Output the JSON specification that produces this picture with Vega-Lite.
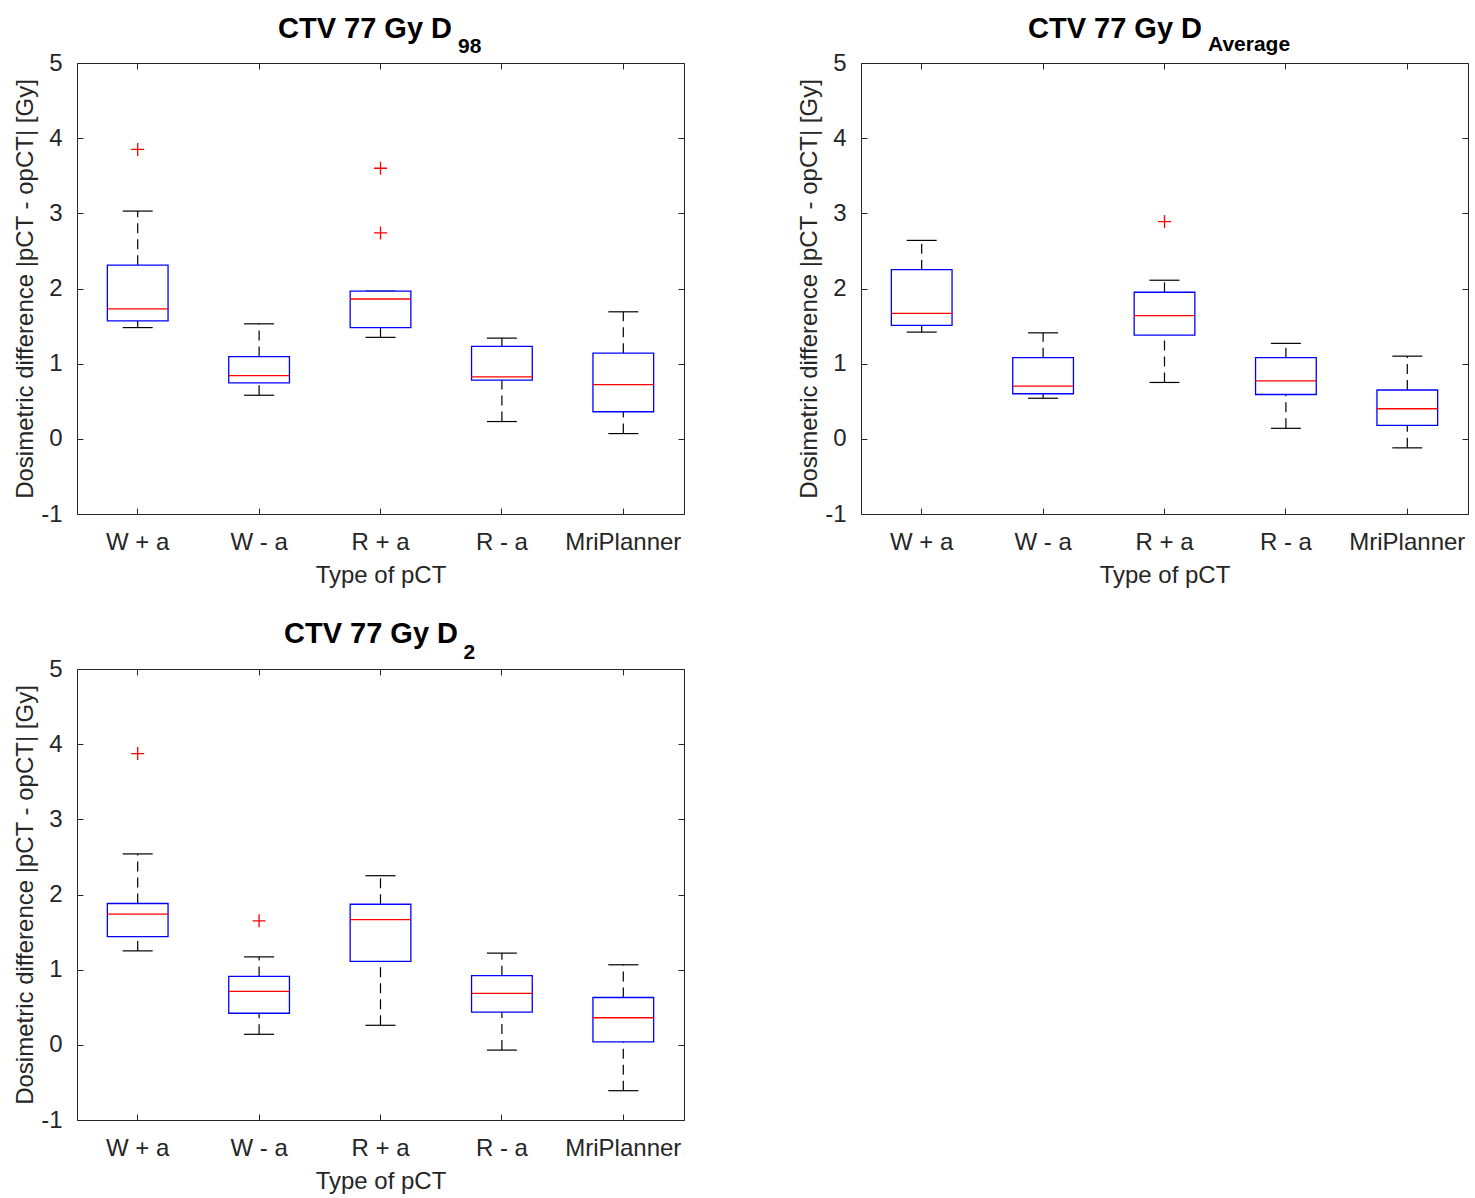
{
  "$schema": "https://vega.github.io/schema/vega-lite/v6.json",
  "padding": {"left": 13, "top": 14, "right": 0, "bottom": 0},
  "background": "white",
  "datasets": {
    "stats": [
      {"panel": "D98", "type": "W + a", "lower": 1.48, "q1": 1.57, "median": 1.73, "q3": 2.31, "upper": 3.03},
      {"panel": "D98", "type": "W - a", "lower": 0.58, "q1": 0.745, "median": 0.84, "q3": 1.095, "upper": 1.53},
      {"panel": "D98", "type": "R + a", "lower": 1.35, "q1": 1.48, "median": 1.86, "q3": 1.965, "upper": 1.965},
      {"panel": "D98", "type": "R - a", "lower": 0.23, "q1": 0.78, "median": 0.825, "q3": 1.23, "upper": 1.34},
      {"panel": "D98", "type": "MriPlanner", "lower": 0.07, "q1": 0.36, "median": 0.72, "q3": 1.14, "upper": 1.69},
      {"panel": "DAvg", "type": "W + a", "lower": 1.42, "q1": 1.51, "median": 1.67, "q3": 2.25, "upper": 2.64},
      {"panel": "DAvg", "type": "W - a", "lower": 0.54, "q1": 0.6, "median": 0.7, "q3": 1.08, "upper": 1.41},
      {"panel": "DAvg", "type": "R + a", "lower": 0.75, "q1": 1.38, "median": 1.64, "q3": 1.95, "upper": 2.11},
      {"panel": "DAvg", "type": "R - a", "lower": 0.14, "q1": 0.59, "median": 0.77, "q3": 1.08, "upper": 1.27},
      {"panel": "DAvg", "type": "MriPlanner", "lower": -0.12, "q1": 0.18, "median": 0.4, "q3": 0.65, "upper": 1.1},
      {"panel": "D2", "type": "W + a", "lower": 1.25, "q1": 1.44, "median": 1.74, "q3": 1.88, "upper": 2.54},
      {"panel": "D2", "type": "W - a", "lower": 0.14, "q1": 0.42, "median": 0.71, "q3": 0.91, "upper": 1.17},
      {"panel": "D2", "type": "R + a", "lower": 0.26, "q1": 1.11, "median": 1.665, "q3": 1.87, "upper": 2.25},
      {"panel": "D2", "type": "R - a", "lower": -0.07, "q1": 0.435, "median": 0.685, "q3": 0.92, "upper": 1.22},
      {"panel": "D2", "type": "MriPlanner", "lower": -0.61, "q1": 0.04, "median": 0.36, "q3": 0.63, "upper": 1.065}
    ],
    "outliers": [
      {"panel": "D98", "type": "W + a", "value": 3.85},
      {"panel": "D98", "type": "R + a", "value": 3.6},
      {"panel": "D98", "type": "R + a", "value": 2.74},
      {"panel": "DAvg", "type": "R + a", "value": 2.89},
      {"panel": "D2", "type": "W + a", "value": 3.875},
      {"panel": "D2", "type": "W - a", "value": 1.65}
    ],
    "subs": [
      {"panel": "D98", "sub": "98"},
      {"panel": "DAvg", "sub": "Average"},
      {"panel": "D2", "sub": "2"}
    ]
  },
  "columns": 2,
  "spacing": {"row": 155, "column": 177},
  "bounds": "flush",
  "concat": [
    {
      "width": 607, "height": 451,
      "title": {"text": "CTV 77 Gy D", "dx": -15.5, "offset": -8},
      "resolve": {"axis": {"x": "independent", "y": "independent"}},
      "layer": [
        {"data": {"name": "stats"}, "transform": [{"filter": "datum.panel === 'D98'"}],
         "mark": {"type": "rule", "color": "black", "strokeWidth": 1.2, "strokeDash": [10, 6]},
         "encoding": {"x": {"field": "type", "type": "nominal", "scale": {"type": "band", "domain": ["W + a", "W - a", "R + a", "R - a", "MriPlanner"], "paddingInner": 0, "paddingOuter": 0}, "axis": null},
                      "y": {"field": "q3", "type": "quantitative", "scale": {"domain": [-1, 5], "nice": false, "zero": false}, "axis": null}, "y2": {"field": "upper"}}},
        {"data": {"name": "stats"}, "transform": [{"filter": "datum.panel === 'D98'"}],
         "mark": {"type": "rule", "color": "black", "strokeWidth": 1.2, "strokeDash": [10, 6]},
         "encoding": {"x": {"field": "type", "type": "nominal", "scale": {"type": "band", "domain": ["W + a", "W - a", "R + a", "R - a", "MriPlanner"], "paddingInner": 0, "paddingOuter": 0}, "axis": null},
                      "y": {"field": "lower", "type": "quantitative", "scale": {"domain": [-1, 5], "nice": false, "zero": false}, "axis": null}, "y2": {"field": "q1"}}},
        {"data": {"name": "stats"}, "transform": [{"filter": "datum.panel === 'D98'"}],
         "mark": {"type": "tick", "color": "black", "size": 30, "thickness": 1.2, "opacity": 1},
         "encoding": {"x": {"field": "type", "type": "nominal", "scale": {"type": "band", "domain": ["W + a", "W - a", "R + a", "R - a", "MriPlanner"], "paddingInner": 0, "paddingOuter": 0}, "axis": null},
                      "y": {"field": "upper", "type": "quantitative", "scale": {"domain": [-1, 5], "nice": false, "zero": false}, "axis": null}}},
        {"data": {"name": "stats"}, "transform": [{"filter": "datum.panel === 'D98'"}],
         "mark": {"type": "tick", "color": "black", "size": 30, "thickness": 1.2, "opacity": 1},
         "encoding": {"x": {"field": "type", "type": "nominal", "scale": {"type": "band", "domain": ["W + a", "W - a", "R + a", "R - a", "MriPlanner"], "paddingInner": 0, "paddingOuter": 0}, "axis": null},
                      "y": {"field": "lower", "type": "quantitative", "scale": {"domain": [-1, 5], "nice": false, "zero": false}, "axis": null}}},
        {"data": {"name": "stats"}, "transform": [{"filter": "datum.panel === 'D98'"}],
         "mark": {"type": "bar", "width": {"band": 0.5}, "fill": "white", "stroke": "#0000ff", "strokeWidth": 1.3},
         "encoding": {"x": {"field": "type", "type": "nominal", "scale": {"type": "band", "domain": ["W + a", "W - a", "R + a", "R - a", "MriPlanner"], "paddingInner": 0, "paddingOuter": 0},
                            "axis": {"orient": "bottom", "title": "Type of pCT", "labelAngle": 0, "domain": false, "tickSize": -6, "labelPadding": 22, "titlePadding": 9}},
                      "y": {"field": "q1", "type": "quantitative", "scale": {"domain": [-1, 5], "nice": false, "zero": false},
                            "axis": {"orient": "left", "title": "Dosimetric difference |pCT - opCT| [Gy]", "values": [-1, 0, 1, 2, 3, 4, 5], "labelExpr": "'' + datum.value", "domain": false, "tickSize": -6, "labelPadding": 21, "titlePadding": 3}},
                      "y2": {"field": "q3"}}},
        {"data": {"name": "stats"}, "transform": [{"filter": "datum.panel === 'D98'"}],
         "mark": {"type": "tick", "color": "#ff0000", "size": 61, "thickness": 1.3, "opacity": 1},
         "encoding": {"x": {"field": "type", "type": "nominal", "scale": {"type": "band", "domain": ["W + a", "W - a", "R + a", "R - a", "MriPlanner"], "paddingInner": 0, "paddingOuter": 0},
                            "axis": {"orient": "top", "title": null, "labels": false, "domain": false, "tickSize": -6}},
                      "y": {"field": "median", "type": "quantitative", "scale": {"domain": [-1, 5], "nice": false, "zero": false},
                            "axis": {"orient": "right", "title": null, "labels": false, "values": [-1, 0, 1, 2, 3, 4, 5], "domain": false, "tickSize": -6}}}},
        {"data": {"name": "outliers"}, "transform": [{"filter": "datum.panel === 'D98'"}],
         "mark": {"type": "point", "shape": "M-1,0L1,0M0,-1L0,1", "size": 169, "filled": false, "color": "#ff0000", "strokeWidth": 1.3, "opacity": 1},
         "encoding": {"x": {"field": "type", "type": "nominal", "scale": {"type": "band", "domain": ["W + a", "W - a", "R + a", "R - a", "MriPlanner"], "paddingInner": 0, "paddingOuter": 0}, "axis": null},
                      "y": {"field": "value", "type": "quantitative", "scale": {"domain": [-1, 5], "nice": false, "zero": false}, "axis": null}}},
        {"data": {"name": "subs"}, "transform": [{"filter": "datum.panel === 'D98'"}],
         "mark": {"type": "text", "align": "left", "baseline": "alphabetic", "dx": 77.5, "dy": -10, "fontSize": 21, "fontWeight": "bold", "color": "black"},
         "encoding": {"x": {"datum": "R + a", "type": "nominal", "scale": {"type": "band", "domain": ["W + a", "W - a", "R + a", "R - a", "MriPlanner"], "paddingInner": 0, "paddingOuter": 0}, "axis": null},
                      "y": {"datum": 5, "type": "quantitative", "scale": {"domain": [-1, 5], "nice": false, "zero": false}, "axis": null},
                      "text": {"field": "sub"}}}
      ]
    },
    {
      "width": 607, "height": 451,
      "title": {"text": "CTV 77 Gy D", "dx": -49.5, "offset": -9.6},
      "resolve": {"axis": {"x": "independent", "y": "independent"}},
      "layer": [
        {"data": {"name": "stats"}, "transform": [{"filter": "datum.panel === 'DAvg'"}],
         "mark": {"type": "rule", "color": "black", "strokeWidth": 1.2, "strokeDash": [10, 6]},
         "encoding": {"x": {"field": "type", "type": "nominal", "scale": {"type": "band", "domain": ["W + a", "W - a", "R + a", "R - a", "MriPlanner"], "paddingInner": 0, "paddingOuter": 0}, "axis": null},
                      "y": {"field": "q3", "type": "quantitative", "scale": {"domain": [-1, 5], "nice": false, "zero": false}, "axis": null}, "y2": {"field": "upper"}}},
        {"data": {"name": "stats"}, "transform": [{"filter": "datum.panel === 'DAvg'"}],
         "mark": {"type": "rule", "color": "black", "strokeWidth": 1.2, "strokeDash": [10, 6]},
         "encoding": {"x": {"field": "type", "type": "nominal", "scale": {"type": "band", "domain": ["W + a", "W - a", "R + a", "R - a", "MriPlanner"], "paddingInner": 0, "paddingOuter": 0}, "axis": null},
                      "y": {"field": "lower", "type": "quantitative", "scale": {"domain": [-1, 5], "nice": false, "zero": false}, "axis": null}, "y2": {"field": "q1"}}},
        {"data": {"name": "stats"}, "transform": [{"filter": "datum.panel === 'DAvg'"}],
         "mark": {"type": "tick", "color": "black", "size": 30, "thickness": 1.2, "opacity": 1},
         "encoding": {"x": {"field": "type", "type": "nominal", "scale": {"type": "band", "domain": ["W + a", "W - a", "R + a", "R - a", "MriPlanner"], "paddingInner": 0, "paddingOuter": 0}, "axis": null},
                      "y": {"field": "upper", "type": "quantitative", "scale": {"domain": [-1, 5], "nice": false, "zero": false}, "axis": null}}},
        {"data": {"name": "stats"}, "transform": [{"filter": "datum.panel === 'DAvg'"}],
         "mark": {"type": "tick", "color": "black", "size": 30, "thickness": 1.2, "opacity": 1},
         "encoding": {"x": {"field": "type", "type": "nominal", "scale": {"type": "band", "domain": ["W + a", "W - a", "R + a", "R - a", "MriPlanner"], "paddingInner": 0, "paddingOuter": 0}, "axis": null},
                      "y": {"field": "lower", "type": "quantitative", "scale": {"domain": [-1, 5], "nice": false, "zero": false}, "axis": null}}},
        {"data": {"name": "stats"}, "transform": [{"filter": "datum.panel === 'DAvg'"}],
         "mark": {"type": "bar", "width": {"band": 0.5}, "fill": "white", "stroke": "#0000ff", "strokeWidth": 1.3},
         "encoding": {"x": {"field": "type", "type": "nominal", "scale": {"type": "band", "domain": ["W + a", "W - a", "R + a", "R - a", "MriPlanner"], "paddingInner": 0, "paddingOuter": 0},
                            "axis": {"orient": "bottom", "title": "Type of pCT", "labelAngle": 0, "domain": false, "tickSize": -6, "labelPadding": 22, "titlePadding": 9}},
                      "y": {"field": "q1", "type": "quantitative", "scale": {"domain": [-1, 5], "nice": false, "zero": false},
                            "axis": {"orient": "left", "title": "Dosimetric difference |pCT - opCT| [Gy]", "values": [-1, 0, 1, 2, 3, 4, 5], "labelExpr": "'' + datum.value", "domain": false, "tickSize": -6, "labelPadding": 21, "titlePadding": 3}},
                      "y2": {"field": "q3"}}},
        {"data": {"name": "stats"}, "transform": [{"filter": "datum.panel === 'DAvg'"}],
         "mark": {"type": "tick", "color": "#ff0000", "size": 61, "thickness": 1.3, "opacity": 1},
         "encoding": {"x": {"field": "type", "type": "nominal", "scale": {"type": "band", "domain": ["W + a", "W - a", "R + a", "R - a", "MriPlanner"], "paddingInner": 0, "paddingOuter": 0},
                            "axis": {"orient": "top", "title": null, "labels": false, "domain": false, "tickSize": -6}},
                      "y": {"field": "median", "type": "quantitative", "scale": {"domain": [-1, 5], "nice": false, "zero": false},
                            "axis": {"orient": "right", "title": null, "labels": false, "values": [-1, 0, 1, 2, 3, 4, 5], "domain": false, "tickSize": -6}}}},
        {"data": {"name": "outliers"}, "transform": [{"filter": "datum.panel === 'DAvg'"}],
         "mark": {"type": "point", "shape": "M-1,0L1,0M0,-1L0,1", "size": 169, "filled": false, "color": "#ff0000", "strokeWidth": 1.3, "opacity": 1},
         "encoding": {"x": {"field": "type", "type": "nominal", "scale": {"type": "band", "domain": ["W + a", "W - a", "R + a", "R - a", "MriPlanner"], "paddingInner": 0, "paddingOuter": 0}, "axis": null},
                      "y": {"field": "value", "type": "quantitative", "scale": {"domain": [-1, 5], "nice": false, "zero": false}, "axis": null}}},
        {"data": {"name": "subs"}, "transform": [{"filter": "datum.panel === 'DAvg'"}],
         "mark": {"type": "text", "align": "left", "baseline": "alphabetic", "dx": 43.5, "dy": -12, "fontSize": 21, "fontWeight": "bold", "color": "black"},
         "encoding": {"x": {"datum": "R + a", "type": "nominal", "scale": {"type": "band", "domain": ["W + a", "W - a", "R + a", "R - a", "MriPlanner"], "paddingInner": 0, "paddingOuter": 0}, "axis": null},
                      "y": {"datum": 5, "type": "quantitative", "scale": {"domain": [-1, 5], "nice": false, "zero": false}, "axis": null},
                      "text": {"field": "sub"}}}
      ]
    },
    {
      "width": 607, "height": 451,
      "title": {"text": "CTV 77 Gy D", "dx": -9.5, "offset": -7.3},
      "resolve": {"axis": {"x": "independent", "y": "independent"}},
      "layer": [
        {"data": {"name": "stats"}, "transform": [{"filter": "datum.panel === 'D2'"}],
         "mark": {"type": "rule", "color": "black", "strokeWidth": 1.2, "strokeDash": [10, 6]},
         "encoding": {"x": {"field": "type", "type": "nominal", "scale": {"type": "band", "domain": ["W + a", "W - a", "R + a", "R - a", "MriPlanner"], "paddingInner": 0, "paddingOuter": 0}, "axis": null},
                      "y": {"field": "q3", "type": "quantitative", "scale": {"domain": [-1, 5], "nice": false, "zero": false}, "axis": null}, "y2": {"field": "upper"}}},
        {"data": {"name": "stats"}, "transform": [{"filter": "datum.panel === 'D2'"}],
         "mark": {"type": "rule", "color": "black", "strokeWidth": 1.2, "strokeDash": [10, 6]},
         "encoding": {"x": {"field": "type", "type": "nominal", "scale": {"type": "band", "domain": ["W + a", "W - a", "R + a", "R - a", "MriPlanner"], "paddingInner": 0, "paddingOuter": 0}, "axis": null},
                      "y": {"field": "lower", "type": "quantitative", "scale": {"domain": [-1, 5], "nice": false, "zero": false}, "axis": null}, "y2": {"field": "q1"}}},
        {"data": {"name": "stats"}, "transform": [{"filter": "datum.panel === 'D2'"}],
         "mark": {"type": "tick", "color": "black", "size": 30, "thickness": 1.2, "opacity": 1},
         "encoding": {"x": {"field": "type", "type": "nominal", "scale": {"type": "band", "domain": ["W + a", "W - a", "R + a", "R - a", "MriPlanner"], "paddingInner": 0, "paddingOuter": 0}, "axis": null},
                      "y": {"field": "upper", "type": "quantitative", "scale": {"domain": [-1, 5], "nice": false, "zero": false}, "axis": null}}},
        {"data": {"name": "stats"}, "transform": [{"filter": "datum.panel === 'D2'"}],
         "mark": {"type": "tick", "color": "black", "size": 30, "thickness": 1.2, "opacity": 1},
         "encoding": {"x": {"field": "type", "type": "nominal", "scale": {"type": "band", "domain": ["W + a", "W - a", "R + a", "R - a", "MriPlanner"], "paddingInner": 0, "paddingOuter": 0}, "axis": null},
                      "y": {"field": "lower", "type": "quantitative", "scale": {"domain": [-1, 5], "nice": false, "zero": false}, "axis": null}}},
        {"data": {"name": "stats"}, "transform": [{"filter": "datum.panel === 'D2'"}],
         "mark": {"type": "bar", "width": {"band": 0.5}, "fill": "white", "stroke": "#0000ff", "strokeWidth": 1.3},
         "encoding": {"x": {"field": "type", "type": "nominal", "scale": {"type": "band", "domain": ["W + a", "W - a", "R + a", "R - a", "MriPlanner"], "paddingInner": 0, "paddingOuter": 0},
                            "axis": {"orient": "bottom", "title": "Type of pCT", "labelAngle": 0, "domain": false, "tickSize": -6, "labelPadding": 22, "titlePadding": 9}},
                      "y": {"field": "q1", "type": "quantitative", "scale": {"domain": [-1, 5], "nice": false, "zero": false},
                            "axis": {"orient": "left", "title": "Dosimetric difference |pCT - opCT| [Gy]", "values": [-1, 0, 1, 2, 3, 4, 5], "labelExpr": "'' + datum.value", "domain": false, "tickSize": -6, "labelPadding": 21, "titlePadding": 3}},
                      "y2": {"field": "q3"}}},
        {"data": {"name": "stats"}, "transform": [{"filter": "datum.panel === 'D2'"}],
         "mark": {"type": "tick", "color": "#ff0000", "size": 61, "thickness": 1.3, "opacity": 1},
         "encoding": {"x": {"field": "type", "type": "nominal", "scale": {"type": "band", "domain": ["W + a", "W - a", "R + a", "R - a", "MriPlanner"], "paddingInner": 0, "paddingOuter": 0},
                            "axis": {"orient": "top", "title": null, "labels": false, "domain": false, "tickSize": -6}},
                      "y": {"field": "median", "type": "quantitative", "scale": {"domain": [-1, 5], "nice": false, "zero": false},
                            "axis": {"orient": "right", "title": null, "labels": false, "values": [-1, 0, 1, 2, 3, 4, 5], "domain": false, "tickSize": -6}}}},
        {"data": {"name": "outliers"}, "transform": [{"filter": "datum.panel === 'D2'"}],
         "mark": {"type": "point", "shape": "M-1,0L1,0M0,-1L0,1", "size": 169, "filled": false, "color": "#ff0000", "strokeWidth": 1.3, "opacity": 1},
         "encoding": {"x": {"field": "type", "type": "nominal", "scale": {"type": "band", "domain": ["W + a", "W - a", "R + a", "R - a", "MriPlanner"], "paddingInner": 0, "paddingOuter": 0}, "axis": null},
                      "y": {"field": "value", "type": "quantitative", "scale": {"domain": [-1, 5], "nice": false, "zero": false}, "axis": null}}},
        {"data": {"name": "subs"}, "transform": [{"filter": "datum.panel === 'D2'"}],
         "mark": {"type": "text", "align": "left", "baseline": "alphabetic", "dx": 83, "dy": -10, "fontSize": 21, "fontWeight": "bold", "color": "black"},
         "encoding": {"x": {"datum": "R + a", "type": "nominal", "scale": {"type": "band", "domain": ["W + a", "W - a", "R + a", "R - a", "MriPlanner"], "paddingInner": 0, "paddingOuter": 0}, "axis": null},
                      "y": {"datum": 5, "type": "quantitative", "scale": {"domain": [-1, 5], "nice": false, "zero": false}, "axis": null},
                      "text": {"field": "sub"}}}
      ]
    }
  ],
  "config": {
    "font": "Liberation Sans",
    "view": {"stroke": "#262626", "strokeWidth": 1},
    "axis": {"labelFont": "Liberation Sans", "labelFontSize": 24, "labelColor": "#262626", "titleFont": "Liberation Sans", "titleFontSize": 24, "titleFontWeight": "normal", "titleColor": "#262626", "tickColor": "#262626", "grid": false},
    "title": {"font": "Liberation Sans", "fontSize": 29, "fontWeight": "bold", "color": "black", "frame": "group", "anchor": "middle", "baseline": "alphabetic", "offset": 26},
    "text": {"font": "Liberation Sans"}
  }
}
